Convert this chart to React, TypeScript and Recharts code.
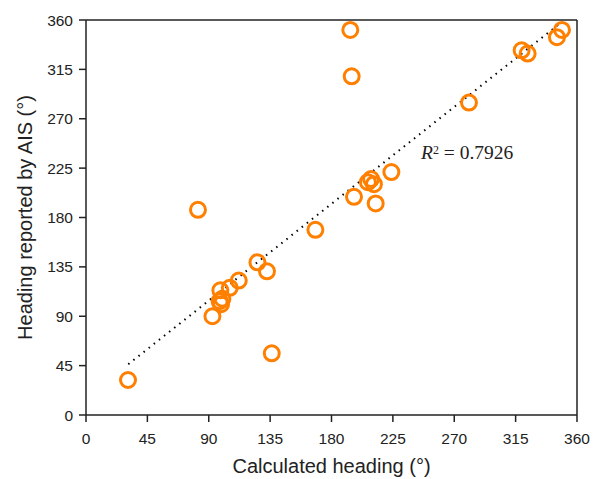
import React from "react";
import {
  ScatterChart,
  Scatter,
  XAxis,
  YAxis,
  ReferenceLine,
} from "recharts";

const calculatedHeading = [
  30.8, 82.1, 92.7, 98, 99, 100, 98.5, 105.4, 112, 125.7, 132.7, 136.2, 168.2,
  193.8, 194.8, 280.8, 319.4, 323.8, 349, 345.3, 223.9, 206.7, 209, 211.1, 196.5, 212.4,
];
const aisHeading = [
  31.9, 187, 90, 103.7, 101, 106, 113.7, 115.9, 122.5, 139.2, 131, 56.2, 168.8,
  350.9, 308.7, 284.7, 332.4, 329.4, 350.9, 344.3, 221.4, 212.2, 215, 210.4, 198.9, 192.8,
];
const tickValues = [0, 45, 90, 135, 180, 225, 270, 315, 360];
const trendX = [31, 349];
const trendY = [46.3, 358.3];
const rSquaredText = "0.7926";
const xTitle = "Calculated heading (°)";
const yTitle = "Heading reported by AIS (°)";

const points = calculatedHeading.map((x, i) => ({ x, y: aisHeading[i] }));

const AXIS = "#222";
const ORANGE = "#FF8000";
const SANS = "Liberation Sans, Arial, sans-serif";

const Ring = (props: any) => {
  const { cx, cy } = props;
  if (cx == null || cy == null) return null;
  return (
    <circle cx={cx} cy={cy} r={7.5} fill="none" stroke={ORANGE} strokeWidth={3} />
  );
};

const YTitle = (props: any) => {
  const vb = props.viewBox || {};
  const cy = (vb.y ?? 20) + (vb.height ?? 395) / 2;
  const cx = 32.3;
  return (
    <text
      x={cx}
      y={cy}
      transform={`rotate(-90 ${cx} ${cy})`}
      textAnchor="middle"
      fill={AXIS}
      fontSize={20}
      fontFamily={SANS}
    >
      {yTitle}
    </text>
  );
};

const XTitle = (props: any) => {
  const vb = props.viewBox || {};
  const cx = (vb.x ?? 86) + (vb.width ?? 491) / 2;
  return (
    <text x={cx} y={472.5} textAnchor="middle" fill={AXIS} fontSize={20} fontFamily={SANS}>
      {xTitle}
    </text>
  );
};

export default function App() {
  return (
    <div style={{ position: "absolute", left: 0, top: 0, width: 601, height: 479, background: "#fff" }}>
      <ScatterChart
        width={601}
        height={479}
        margin={{ top: 20, right: 24, left: 0, bottom: 0 }}
      >
        <XAxis
          type="number"
          dataKey="x"
          domain={[0, 360]}
          ticks={tickValues}
          allowDataOverflow
          height={64}
          stroke={AXIS}
          strokeWidth={1.5}
          tickSize={7}
          tick={{ fill: AXIS, fontSize: 15.5, fontFamily: SANS, dy: 8.5 }}
          label={<XTitle />}
        />
        <YAxis
          type="number"
          dataKey="y"
          domain={[0, 360]}
          ticks={tickValues}
          allowDataOverflow
          width={86}
          stroke={AXIS}
          strokeWidth={1.5}
          tickSize={7}
          tick={{ fill: AXIS, fontSize: 15.5, fontFamily: SANS, dx: -4 }}
          label={<YTitle />}
        />
        <ReferenceLine y={360} stroke={AXIS} strokeWidth={1.5} />
        <ReferenceLine x={360} stroke={AXIS} strokeWidth={1.5} />
        <ReferenceLine
          segment={[
            { x: trendX[0], y: trendY[0] },
            { x: trendX[1], y: trendY[1] },
          ]}
          stroke="#000"
          strokeWidth={2}
          strokeDasharray="1.5 5"
        />
        <Scatter data={points} shape={<Ring />} isAnimationActive={false} />
      </ScatterChart>
      <div
        style={{
          position: "absolute",
          left: 421,
          top: 139,
          fontFamily: "Liberation Serif, Times New Roman, serif",
          fontSize: 19.5,
          color: "#222",
          whiteSpace: "nowrap",
          lineHeight: "22px",
        }}
      >
        <i>R</i>
        <span style={{ fontSize: 12, verticalAlign: "5px" }}>2</span> = {rSquaredText}
      </div>
    </div>
  );
}
